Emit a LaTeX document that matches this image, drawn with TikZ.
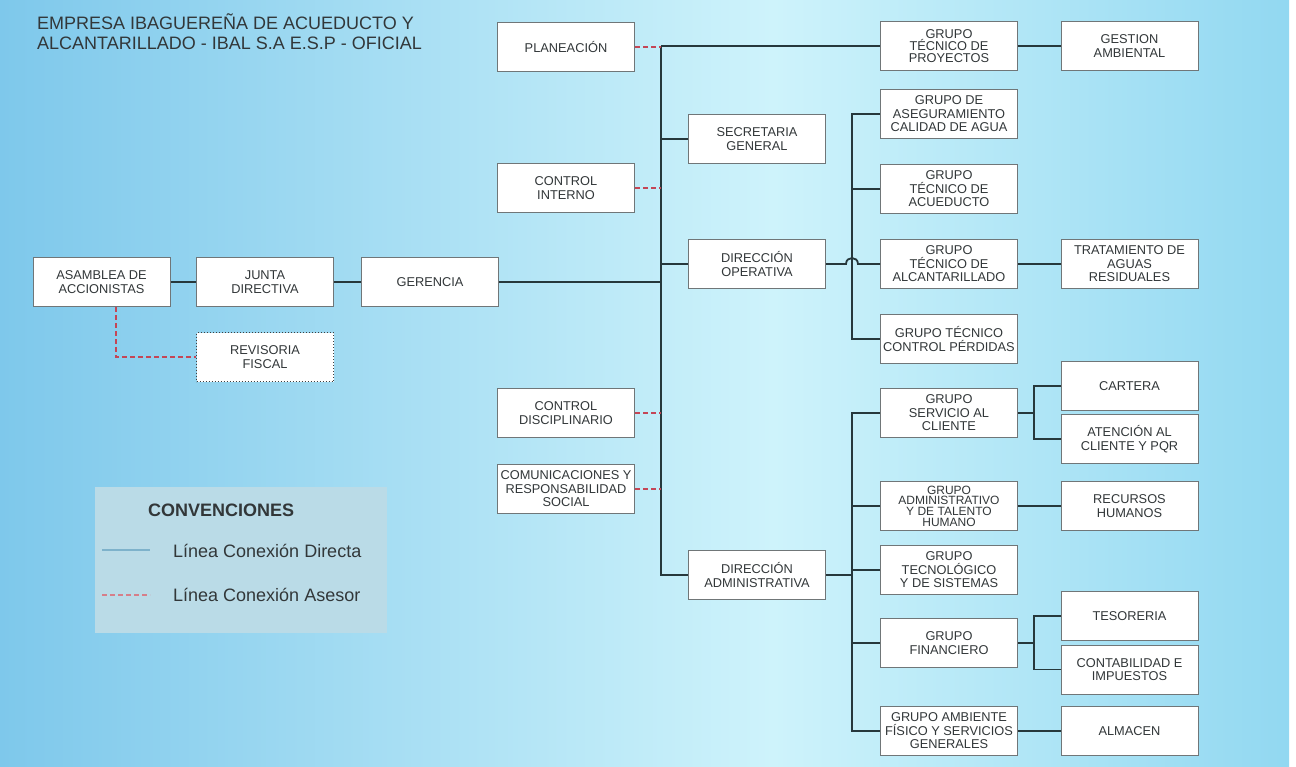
\documentclass[tikz,border=0pt]{standalone}
\usepackage{fontspec}
\setmainfont{Liberation Sans}
\usepackage{xcolor}
\usetikzlibrary{positioning}

\definecolor{skyL}{RGB}{126,200,235}
\definecolor{skyM}{RGB}{206,243,251}
\definecolor{skyR}{RGB}{146,216,241}
\definecolor{boxline}{RGB}{112,118,120}
\definecolor{linkc}{RGB}{38,56,60}
\definecolor{advc}{RGB}{196,70,86}
\definecolor{legendbg}{RGB}{186,219,231}
\definecolor{txt}{RGB}{50,55,57}

\pgfdeclarehorizontalshading{skybg}{100bp}{color(0bp)=(skyL); color(25bp)=(skyL); color(55bp)=(skyM); color(75bp)=(skyR); color(100bp)=(skyR)}

\tikzset{
  unit/.style={draw=boxline, line width=1pt, fill=white, minimum width=137pt,
    minimum height=49pt, inner sep=1pt, align=center, text=txt,
    font=\fontsize{12.8}{13.5}\selectfont},
  link/.style={draw=linkc, line width=1.8pt},
  advisor/.style={draw=advc, line width=1.9pt, dash pattern=on 5pt off 3pt},
}

\begin{document}
\begin{tikzpicture}[x=1pt, y=-1pt]
  \useasboundingbox (0,0) rectangle (1296,766);
  % Background
  \fill[white] (0,0) rectangle (1296,766);
  \shade[shading=skybg] (0,0) rectangle (1289,766);
  % Title
  \node[anchor=north west, inner sep=0pt, align=left, text=txt,
    font=\fontsize{18}{20}\selectfont] (title) at (37,13)
    {EMPRESA IBAGUEREÑA DE ACUEDUCTO Y\\ALCANTARILLADO - IBAL S.A E.S.P - OFICIAL};
  % Legend
  \fill[legendbg] (95,487) rectangle (387,633);
  \node[anchor=base west, inner sep=0pt, text=txt, font=\fontsize{18}{20}\selectfont\bfseries]
    (keyTitle) at (148,516) {CONVENCIONES};
  \node[anchor=base west, inner sep=0pt, text=txt, font=\fontsize{18}{20}\selectfont]
    (keyDirect) at (173,557) {Línea Conexión Directa};
  \node[anchor=base west, inner sep=0pt, text=txt, font=\fontsize{18}{20}\selectfont]
    (keyAdvisor) at (173,601) {Línea Conexión Asesor};
  \coordinate (keyDirectA) at (102,550);
  \coordinate (keyDirectB) at (150,550);
  \coordinate (keyAdvisorA) at (102,595);
  \coordinate (keyAdvisorB) at (150,595);
  \draw[draw=skyL!70!gray, line width=1.3pt] (keyDirectA) -- (keyDirectB);
  \draw[advisor, draw=advc!70, line width=1.5pt] (keyAdvisorA) -- (keyAdvisorB);

  % Governance
  \node[unit] (asamblea) at (101.5,282) {ASAMBLEA DE\\ACCIONISTAS};
  \node[unit] (junta) at (265,282) {JUNTA\\DIRECTIVA};
  \node[unit] (gerencia) at (430,282) {GERENCIA};
  \node[unit, draw=black!75, dotted, line width=1.1pt] (revisoria) at (265,357) {REVISORIA\\FISCAL};
  % Staff units
  \node[unit] (planeacion) at (566,47) {PLANEACIÓN};
  \node[unit] (controlInterno) at (566,188) {CONTROL\\INTERNO};
  \node[unit] (disciplinario) at (566,413) {CONTROL\\DISCIPLINARIO};
  \node[unit] (comunicaciones) at (566,489) {COMUNICACIONES Y\\RESPONSABILIDAD\\SOCIAL};
  % Directions
  \node[unit] (secretaria) at (757,139) {SECRETARIA\\GENERAL};
  \node[unit] (operativa) at (757,264) {DIRECCIÓN\\OPERATIVA};
  \node[unit] (administrativa) at (757,575) {DIRECCIÓN\\ADMINISTRATIVA};
  % Groups
  \node[unit, font=\fontsize{12.8}{11.8}\selectfont] (proyectos) at (949,46) {GRUPO\\TÉCNICO DE\\PROYECTOS};
  \node[unit] (aseguramiento) at (949,114) {GRUPO DE\\ASEGURAMIENTO\\CALIDAD DE AGUA};
  \node[unit] (acueducto) at (949,189) {GRUPO\\TÉCNICO DE\\ACUEDUCTO};
  \node[unit] (alcantarillado) at (949,264) {GRUPO\\TÉCNICO DE\\ALCANTARILLADO};
  \node[unit] (perdidas) at (949,339) {GRUPO TÉCNICO\\CONTROL PÉRDIDAS};
  \node[unit] (servicio) at (949,413) {GRUPO\\SERVICIO AL\\CLIENTE};
  \node[unit, font=\fontsize{12}{10.6}\selectfont] (talento) at (949,506) {GRUPO\\ADMINISTRATIVO\\Y DE TALENTO\\HUMANO};
  \node[unit] (tecnologico) at (949,570) {GRUPO\\TECNOLÓGICO\\Y DE SISTEMAS};
  \node[unit] (financiero) at (949,643) {GRUPO\\FINANCIERO};
  \node[unit] (ambiente) at (949,731) {GRUPO AMBIENTE\\FÍSICO Y SERVICIOS\\GENERALES};
  % Areas
  \node[unit] (gestion) at (1129.5,46) {GESTION\\AMBIENTAL};
  \node[unit] (tratamiento) at (1129.5,264) {TRATAMIENTO DE\\AGUAS\\RESIDUALES};
  \node[unit] (cartera) at (1129.5,386) {CARTERA};
  \node[unit] (atencion) at (1129.5,439) {ATENCIÓN AL\\CLIENTE Y PQR};
  \node[unit] (rrhh) at (1129.5,506) {RECURSOS\\HUMANOS};
  \node[unit] (tesoreria) at (1129.5,616) {TESORERIA};
  \node[unit] (contabilidad) at (1129.5,669.5) {CONTABILIDAD E\\IMPUESTOS};
  \node[unit] (almacen) at (1129.5,731) {ALMACEN};

  % Buses
  \coordinate (trunkTop) at (661,46);
  \coordinate (groupBus) at (852,0);
  \coordinate (subBus) at (1034,0);
  \coordinate (hopL) at (846,264);
  \coordinate (hopR) at (858,264);

  % Main line
  \draw[link] (asamblea) -- (junta) -- (gerencia);
  \draw[link] (gerencia.east) -- (gerencia.east -| trunkTop);
  \draw[link] (trunkTop) |- (administrativa.west);
  \draw[link] (trunkTop) -- (proyectos.west);
  \draw[link] (secretaria.west) -- (secretaria.west -| trunkTop);
  \draw[link] (operativa.west) -- (operativa.west -| trunkTop);
  % Advisor lines
  \draw[advisor] ([xshift=14.5pt]asamblea.south) |- (revisoria.west);
  \draw[advisor] (planeacion.east) -- (planeacion.east -| trunkTop);
  \draw[advisor] (controlInterno.east) -- (controlInterno.east -| trunkTop);
  \draw[advisor] (disciplinario.east) -- (disciplinario.east -| trunkTop);
  \draw[advisor] (comunicaciones.east) -- (comunicaciones.east -| trunkTop);
  % Operative groups
  \draw[link] (aseguramiento.west) -- (aseguramiento.west -| groupBus)
    -- (perdidas.west -| groupBus) -- (perdidas.west);
  \draw[link] (acueducto.west) -- (acueducto.west -| groupBus);
  \draw[link] (operativa.east) -- (hopL) .. controls (846,256) and (858,256) .. (hopR)
    -- (alcantarillado.west);
  % Administrative groups
  \draw[link] (servicio.west) -- (servicio.west -| groupBus)
    -- (ambiente.west -| groupBus) -- (ambiente.west);
  \draw[link] (talento.west) -- (talento.west -| groupBus);
  \draw[link] (tecnologico.west) -- (tecnologico.west -| groupBus);
  \draw[link] (financiero.west) -- (financiero.west -| groupBus);
  \draw[link] (administrativa.east) -- (administrativa.east -| groupBus);
  % Areas
  \draw[link] (proyectos) -- (gestion);
  \draw[link] (alcantarillado) -- (tratamiento);
  \draw[link] (talento) -- (rrhh);
  \draw[link] (ambiente) -- (almacen);
  \draw[link] (cartera.west) -- (cartera.west -| subBus) -- (atencion.west -| subBus) -- (atencion.west);
  \draw[link] (servicio.east) -- (servicio.east -| subBus);
  \draw[link] (tesoreria.west) -- (tesoreria.west -| subBus) -- (contabilidad.west -| subBus) -- (contabilidad.west);
  \draw[link] (financiero.east) -- (financiero.east -| subBus);
\end{tikzpicture}
\end{document}
